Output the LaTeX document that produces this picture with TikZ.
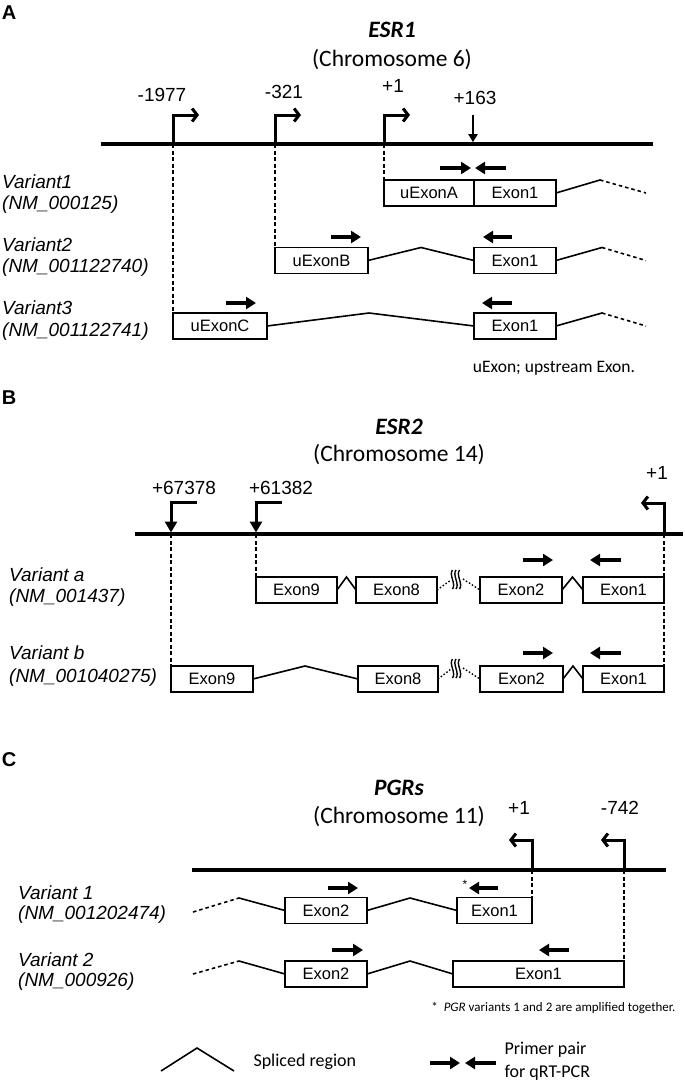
\documentclass[tikz,border=0pt]{standalone}
\usepackage{fontspec}
\setmainfont{Liberation Sans}
\newfontfamily\calfont{Carlito}
\usetikzlibrary{arrows.meta}

\tikzset{
  chrom/.style={line width=3.5pt},
  tss/.style={line width=3pt, -{Straight Barb[length=5pt,width=13pt]}},
  tssdown/.style={line width=3pt, -{Triangle[length=11pt,width=12pt]}, shorten >=1.5pt},
  site/.style={line width=2.2pt, -{Triangle[length=8pt,width=9pt]}, shorten >=1.8pt},
  primer/.style={line width=3.2pt, -{Triangle[length=10pt,width=12pt]}},
  guide/.style={line width=1.2pt, dash pattern=on 4pt off 2.5pt},
  splice/.style={line width=1.6pt},
  splicetail/.style={line width=1.6pt, dash pattern=on 3.5pt off 3pt},
  dotlink/.style={line width=1.4pt, dash pattern=on 1.5pt off 2pt},
  brk/.style={line width=1.4pt},
  exon/.style={draw, line width=1.6pt, minimum height=26pt, inner sep=0pt, outer sep=0pt,
    font=\fontsize{16.5}{18}\selectfont},
  num/.style={font=\fontsize{19}{22}\selectfont},
  varname/.style={anchor=west, inner sep=0pt, font=\fontsize{19}{22}\selectfont\itshape},
  gene/.style={font=\calfont\fontsize{23.5}{26}\selectfont\bfseries\itshape},
  chromo/.style={font=\calfont\fontsize{23.5}{26}\selectfont},
  panel/.style={font=\fontsize{20}{22}\selectfont\bfseries},
  note/.style={font=\calfont\fontsize{17.5}{20}\selectfont}
}

\begin{document}
\begin{tikzpicture}[x=1pt,y=-1pt]
\useasboundingbox (0,0) rectangle (685,1084);

% ---- A: ESR1
\node[panel] (pA) at (9,13) {A};
\node[gene] (esr1) at (392,30) {ESR1};
\node[chromo] (chr6) at (392,60) {(Chromosome 6)};
\draw[chrom] (101,144) -- (653,144);
\coordinate (t1977) at (173,144);
\coordinate (t321) at (275,144);
\coordinate (t1) at (384,144);
\coordinate (t163) at (473,144);
\draw[tss] (t1977) -- (173,115) -- (199,115);
\draw[tss] (t321) -- (275,115) -- (301,115);
\draw[tss] (t1) -- (384,115) -- (410,115);
\draw[site] (473,115) -- (t163);
\node[num] (n1977) at (162,95) {-1977};
\node[num] (n321) at (284,92) {-321};
\node[num] (n1) at (393,86) {+1};
\node[num] (n163) at (475,98) {+163};

\node[varname] (v1) at (2,182) {Variant1};
\node[varname] (v1id) at (2,205) {(NM\_000125)};
\node[varname] (v2) at (2,245) {Variant2};
\node[varname] (v2id) at (2,268) {(NM\_001122740)};
\node[varname] (v3) at (2,308) {Variant3};
\node[varname] (v3id) at (2,332) {(NM\_001122741)};

\node[exon, minimum width=90pt] (v1a) at (429,193) {uExonA};
\node[exon, minimum width=82pt] (v1e) at (515,193) {Exon1};
\node[exon, minimum width=93pt] (v2b) at (321.5,260.5) {uExonB};
\node[exon, minimum width=82pt] (v2e) at (515,260.5) {Exon1};
\node[exon, minimum width=94pt] (v3c) at (220,326) {uExonC};
\node[exon, minimum width=82pt] (v3e) at (515,326) {Exon1};

\draw[guide] (t1977) -- (v3c.north west);
\draw[guide] (t321) -- (v2b.north west);
\draw[guide] (t1) -- (v1a.north west);

\coordinate (v1tail) at (646,193);
\coordinate (v2tail) at (646,260.5);
\coordinate (v3tail) at (646,326);
\draw[splice] (v1e.east) -- (600,180);
\draw[splicetail] (600,180) -- (v1tail);
\draw[splice] (v2b.east) -- (421,247.5) -- (v2e.west);
\draw[splice] (v2e.east) -- (602,247.5);
\draw[splicetail] (602,247.5) -- (v2tail);
\draw[splice] (v3c.east) -- (369,313) -- (v3e.west);
\draw[splice] (v3e.east) -- (602,313);
\draw[splicetail] (602,313) -- (v3tail);

\draw[primer] (440,168) -- (471,168);
\draw[primer] (506,168) -- (475,168);
\draw[primer] (331,237) -- (361,237);
\draw[primer] (512,237) -- (483,237);
\draw[primer] (226,303) -- (256,303);
\draw[primer] (512,303) -- (482,303);

\node[note] (capA) at (554,368) {uExon; upstream Exon.};

% ---- B: ESR2
\node[panel] (pB) at (9,398) {B};
\node[gene] (esr2) at (399,427) {ESR2};
\node[chromo] (chr14) at (399,455) {(Chromosome 14)};
\draw[chrom] (135,534) -- (683,534);
\coordinate (s67378) at (171,534);
\coordinate (s61382) at (256,534);
\coordinate (s1) at (664,534);
\draw[tssdown] (197,502) -- (171,502) -- (s67378);
\draw[tssdown] (282,502) -- (256,502) -- (s61382);
\draw[tss] (s1) -- (664,503) -- (641,503);
\node[num] (n67378) at (184,488) {+67378};
\node[num] (n61382) at (281,488) {+61382};
\node[num] (nb1) at (657,473) {+1};

\node[varname] (va) at (9,575) {Variant a};
\node[varname] (vaid) at (9,598) {(NM\_001437)};
\node[varname] (vb) at (9,653) {Variant b};
\node[varname] (vbid) at (9,678) {(NM\_001040275)};

\node[exon, minimum width=81pt] (va9) at (296.5,590) {Exon9};
\node[exon, minimum width=81pt] (va8) at (396.5,590) {Exon8};
\node[exon, minimum width=82pt] (va2) at (521,590) {Exon2};
\node[exon, minimum width=81pt] (va1) at (623.5,590) {Exon1};
\node[exon, minimum width=82pt] (vb9) at (212,679) {Exon9};
\node[exon, minimum width=80pt] (vb8) at (398,679) {Exon8};
\node[exon, minimum width=83pt] (vb2) at (521.5,679) {Exon2};
\node[exon, minimum width=81pt] (vb1) at (623.5,679) {Exon1};

\draw[guide] (s67378) -- (vb9.north west);
\draw[guide] (s61382) -- (va9.north west);
\draw[guide] (s1) -- (vb1.north east);

\draw[splice] (va9.east) -- (346.5,577) -- (va8.west);
\draw[splice] (va2.east) -- (572.5,577) -- (va1.west);
\draw[splice] (vb9.east) -- (305,666) -- (vb8.west);
\draw[splice] (vb2.east) -- (573,666) -- (vb1.west);

% breaks in the long intron
\draw[dotlink] (va8.east) -- (451,580);
\draw[dotlink] (463,579) -- (va2.west);
\foreach \bx in {452.5,456,459.5} {
  \draw[brk] (\bx,570) .. controls (\bx-4,575) and (\bx+4,584) .. (\bx,589);
  \draw[brk] (\bx,659) .. controls (\bx-4,664) and (\bx+4,673) .. (\bx,678);
}
\draw[dotlink] (vb8.east) -- (451,669);
\draw[dotlink] (463,668) -- (vb2.west);

\draw[primer] (523,560) -- (553,560);
\draw[primer] (621,560) -- (590,560);
\draw[primer] (523,653) -- (553,653);
\draw[primer] (621,653) -- (590,653);

% ---- C: PGR
\node[panel] (pC) at (9,760) {C};
\node[gene] (pgrs) at (399,788) {PGRs};
\node[chromo] (chr11) at (399,817) {(Chromosome 11)};
\draw[chrom] (192,870) -- (666,870);
\coordinate (p1) at (532,870);
\coordinate (p742) at (624,870);
\draw[tss] (p1) -- (532,840) -- (509,840);
\draw[tss] (p742) -- (624,840) -- (601,840);
\node[num] (nc1) at (519,808) {+1};
\node[num] (n742) at (620,808) {-742};

\node[varname] (c1) at (18,893) {Variant 1};
\node[varname] (c1id) at (18,915) {(NM\_001202474)};
\node[varname] (c2) at (18,960) {Variant 2};
\node[varname] (c2id) at (18,982) {(NM\_000926)};

\node[exon, minimum width=82pt] (c1e2) at (326,910.5) {Exon2};
\node[exon, minimum width=75pt] (c1e1) at (494.5,910.5) {Exon1};
\node[exon, minimum width=82pt] (c2e2) at (326,974) {Exon2};
\node[exon, minimum width=171pt] (c2e1) at (538.5,974) {Exon1};

\draw[guide] (p1) -- (c1e1.north east);
\draw[guide] (p742) -- (c2e1.north east);

\coordinate (c1tail) at (193,912);
\coordinate (c2tail) at (193,974);
\draw[splicetail] (c1tail) -- (239,898);
\draw[splice] (239,898) -- (c1e2.west);
\draw[splice] (c1e2.east) -- (410,898) -- (c1e1.west);
\draw[splicetail] (c2tail) -- (239,961);
\draw[splice] (239,961) -- (c2e2.west);
\draw[splice] (c2e2.east) -- (410,961) -- (c2e1.west);

\draw[primer] (328,888) -- (358,888);
\draw[primer] (498,888) -- (469,888);
\node[font=\fontsize{12}{12}\selectfont, inner sep=0pt] (ast) at (465,884) {*};
\draw[primer] (332,950) -- (363,950);
\draw[primer] (569,950) -- (539,950);

\node[anchor=east, font=\calfont\fontsize{13}{15}\selectfont] (foot) at (679,1008)
  {*\ \ \textit{PGR} variants 1 and 2 are amplified together.};

% legend
\draw[splice] (161,1071) -- (197,1048) -- (234,1071);
\node[note, anchor=west, font=\calfont\fontsize{18}{20}\selectfont] (lgsp) at (250,1062) {Spliced region};
\draw[primer] (430,1063) -- (460,1063);
\draw[primer] (496,1063) -- (465,1063);
\node[note, anchor=west, font=\calfont\fontsize{18}{20}\selectfont] (lgpr) at (501,1050) {Primer pair};
\node[note, anchor=west, font=\calfont\fontsize{18}{20}\selectfont] (lgqr) at (501,1073) {for qRT-PCR};
\end{tikzpicture}
\end{document}
